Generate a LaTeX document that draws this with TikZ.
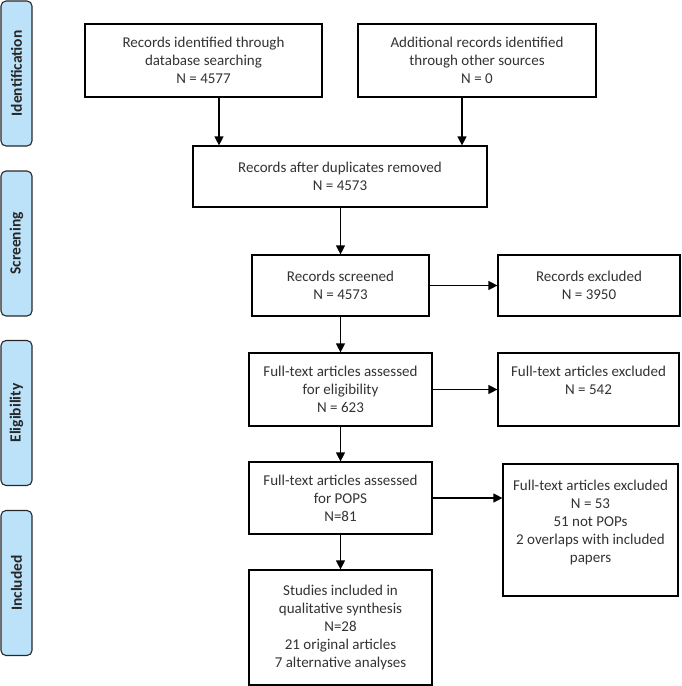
\documentclass[tikz,border=0pt]{standalone}
\usepackage{fontspec}
\setmainfont{Carlito}
\usetikzlibrary{arrows.meta}
\definecolor{sidefill}{RGB}{187,226,248}
\definecolor{sidedraw}{RGB}{40,40,40}
\tikzset{
  box/.style={draw=black, line width=1.2pt, fill=white, align=center, inner sep=0pt,
    font=\fontsize{15pt}{18pt}\selectfont, text=black!80},
  side/.style={draw=sidedraw, line width=1.1pt, fill=sidefill, rounded corners=5pt,
    rotate=90, minimum width=145pt, minimum height=31pt, inner sep=0pt,
    font=\fontsize{15.5pt}{17pt}\selectfont\bfseries, text=black!85},
  arr/.style={line width=1.2pt, -{Triangle[length=9pt,width=9pt]}},
}
\begin{document}
\begin{tikzpicture}[x=1pt,y=-1pt]
\useasboundingbox (0,0) rectangle (681,686);
% side labels
\node[side] (s1) at (16.5,73.5) {Identification};
\node[side] (s2) at (16.5,243.5) {Screening};
\node[side] (s3) at (16.5,413) {Eligibility};
\node[side] (s4) at (16.5,583) {Included};
% boxes
\node[box, minimum width=237pt, minimum height=73pt] (b1) at (203.5,60.5)
  {Records identified through\\database searching\\N = 4577};
\node[box, minimum width=238pt, minimum height=73pt] (b2) at (477,60.5)
  {Additional records identified\\through other sources\\N = 0};
\node[box, minimum width=294pt, minimum height=61pt] (b3) at (340,176.5)
  {Records after duplicates removed\\N = 4573};
\node[box, minimum width=177pt, minimum height=61pt] (b4) at (340.5,285.5)
  {Records screened\\N = 4573};
\node[box, minimum width=182pt, minimum height=61pt] (b5) at (589,285.5)
  {Records excluded\\N = 3950};
\node[box, minimum width=183pt, minimum height=73pt] (b6) at (340.5,389.5)
  {Full-text articles assessed\\for eligibility\\N = 623};
\node[box, minimum width=181pt, minimum height=73pt] (b7) at (588.5,389.5)
  {Full-text articles excluded\\N = 542\\\mbox{}};
\node[box, minimum width=183pt, minimum height=72pt] (b8) at (340.5,498)
  {Full-text articles assessed\\for POPS\\N=81};
\node[box, minimum width=175pt, minimum height=132pt] (b9) at (590.5,530)
  {Full-text articles excluded\\N = 53\\51 not POPs\\2 overlaps with included\\papers\\\mbox{}};
\node[box, minimum width=183pt, minimum height=115pt] (b10) at (340.5,627.5)
  {Studies included in\\qualitative synthesis\\N=28\\21 original articles\\7 alternative analyses};
% connectors
\draw[arr] ([xshift=15.5pt]b1.south) -- ([xshift=15.5pt]b1.south |- b3.north);
\draw[arr] ([xshift=-15pt]b2.south) -- ([xshift=-15pt]b2.south |- b3.north);
\draw[arr] (b3.south -| b4.north) -- (b4.north);
\draw[arr] (b4.east) -- (b4.east -| b5.west);
\draw[arr] (b4.south) -- (b6.north);
\draw[arr] (b6.east) -- (b6.east -| b7.west);
\draw[arr] (b6.south) -- (b8.north);
\draw[arr] (b8.east) -- (b8.east -| b9.west);
\draw[arr] (b8.south) -- (b10.north);
\end{tikzpicture}
\end{document}
